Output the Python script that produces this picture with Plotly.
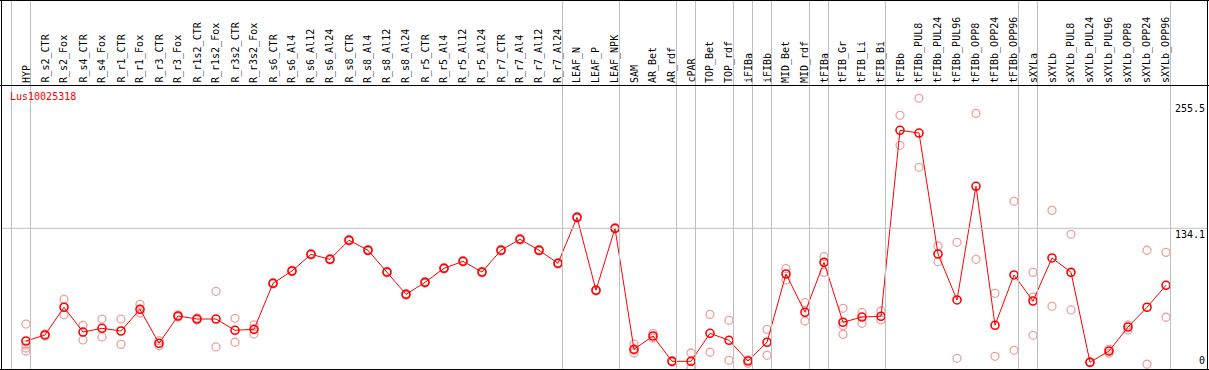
import plotly.graph_objects as go

W, H = 1209, 370

categories = ["HYP", "R_s2_CTR", "R_s2_Fox", "R_s4_CTR", "R_s4_Fox", "R_r1_CTR", "R_r1_Fox",
              "R_r3_CTR", "R_r3_Fox", "R_r1s2_CTR", "R_r1s2_Fox", "R_r3s2_CTR", "R_r3s2_Fox",
              "R_s6_CTR", "R_s6_Al4", "R_s6_Al12", "R_s6_Al24", "R_s8_CTR", "R_s8_Al4",
              "R_s8_Al12", "R_s8_Al24", "R_r5_CTR", "R_r5_Al4", "R_r5_Al12", "R_r5_Al24",
              "R_r7_CTR", "R_r7_Al4", "R_r7_Al12", "R_r7_Al24", "LEAF_N", "LEAF_P", "LEAF_NPK",
              "SAM", "AR_Bet", "AR_rdf", "cPAR", "TOP_Bet", "TOP_rdf", "iFIBa", "iFIBb",
              "MID_Bet", "MID_rdf", "tFIBa", "tFIB_Gr", "tFIB_Li", "tFIB_Bi", "tFIBb",
              "tFIBb_PUL8", "tFIBb_PUL24", "tFIBb_PUL96", "tFIBb_OPP8", "tFIBb_OPP24",
              "tFIBb_OPP96", "sXYLa", "sXYLb", "sXYLb_PUL8", "sXYLb_PUL24", "sXYLb_PUL96",
              "sXYLb_OPP8", "sXYLb_OPP24", "sXYLb_OPP96"]

mean_values = [25.9, 31.7, 58.3, 34.5, 38.1, 35.5, 56.3, 23.7, 49.9, 47.0, 47.0, 36.2, 37.1,
               81.3, 93.1, 109.1, 104.3, 122.6, 113.0, 92.1, 70.7, 82.2, 95.7, 102.4, 92.1,
               113.0, 123.5, 113.0, 100.5, 144.6, 74.6, 134.1,
               17.9, 30.7, 6.4, 6.4, 33.3, 26.6, 6.7, 24.7, 90.2, 53.5, 101.4, 43.9, 48.9, 49.6,
               228.1, 225.5, 109.4, 65.3, 174.4, 41.0, 89.3, 64.3, 105.6, 91.8, 5.5, 16.3,
               39.3, 58.3, 79.4]

rep_values = [
    [42.2, 22.1, 19.2, 16.3], [32.6, 30.7], [65.9, 51.2], [41.0, 26.9], [47.0, 29.8],
    [47.0, 22.7], [61.1, 52.8], [26.2, 21.4], [50.9, 48.9], [48.0, 46.1], [73.6, 20.2],
    [47.7, 24.7], [41.3, 32.6],
    [82.0, 80.6], [93.8, 92.4], [109.8, 108.4], [105.0, 103.6], [123.3, 121.9], [113.7, 112.3],
    [92.8, 91.4], [71.4, 70.0], [82.9, 81.5], [96.4, 95.0], [103.1, 101.7], [92.8, 91.4],
    [113.7, 112.3], [124.2, 122.8], [113.7, 112.3], [101.2, 99.8], [145.3, 143.9], [75.3, 73.9],
    [134.8, 133.4],
    [23.0, 17.3, 14.4], [33.3, 28.8], [7.0, 5.8], [14.4, 0.0], [51.5, 15.1], [45.8, 7.4],
    [7.7, 4.5], [37.1, 12.2], [95.3, 84.5], [62.7, 45.1], [106.8, 91.8], [57.3, 40.6, 32.3],
    [53.1, 42.9], [54.7, 46.1], [242.5, 213.7], [258.8, 192.6], [117.1, 102.0], [120.6, 9.3],
    [244.4, 104.3], [71.7, 11.2], [160.0, 17.0], [91.8, 68.1, 31.4], [151.3, 59.2],
    [128.3, 55.7], [6.0, 5.0], [18.2, 14.1], [41.3, 36.5], [113.0, 3.6], [111.0, 48.7],
]

gene_id = "Lus10025318"
axis_labels = ["255.5", "134.1", "0"]
axis_values = [255.5, 134.1, 0]
mean_line_value = 134.1

group_starts = ["HYP", "R_s2_CTR", "LEAF_N", "SAM", "cPAR", "TOP_Bet", "iFIBa", "iFIBb",
                "MID_Bet", "tFIBa", "tFIB_Gr", "tFIBb", "sXYLa", "sXYLb"]

# ---- pixel geometry ----
X0, DX = 26.0, 19.0          # pixel x of first category, spacing
Y0, KY = 368.0, 1.042        # pixel y of value 0, pixels per unit
xr = [-X0 / DX, (W - X0) / DX]
yr = [(Y0 - H) / KY, Y0 / KY]

def px(p):
    return p / W

def py(p):
    return 1 - p / H

rep_x, rep_y = [], []
for c, reps in zip(categories, rep_values):
    for v in reps:
        rep_x.append(c)
        rep_y.append(v)

fig = go.Figure()
fig.add_trace(go.Scatter(
    x=rep_x, y=rep_y, mode="markers",
    marker=dict(symbol="circle-open", size=8, color="#f0a0a0", line=dict(width=1.3)),
    hoverinfo="skip", showlegend=False))
fig.add_trace(go.Scatter(
    x=categories, y=mean_values, mode="lines+markers",
    line=dict(color="#ff0000", width=1),
    marker=dict(symbol="circle-open", size=8, color="#ff0000", line=dict(width=1.6)),
    showlegend=False))

shapes = []
gray = "#c0c0c0"
offset = 14.5 / DX
idx = {c: i for i, c in enumerate(categories)}
bounds = [idx[c] - offset for c in group_starts] + [len(categories) - offset]
for b in bounds:
    shapes.append(dict(type="line", xref="x", yref="paper", x0=b, x1=b, y0=py(369), y1=1,
                       line=dict(color=gray, width=1)))
# mean line
shapes.append(dict(type="line", xref="paper", yref="y", x0=px(1), x1=px(1207),
                   y0=mean_line_value, y1=mean_line_value, line=dict(color=gray, width=1)))
# black frame
blk = dict(color="#000000", width=1)
shapes += [
    dict(type="line", xref="paper", yref="paper", x0=0, x1=1, y0=py(0.5), y1=py(0.5), line=blk),
    dict(type="line", xref="paper", yref="paper", x0=0, x1=1, y0=py(85.5), y1=py(85.5), line=blk),
    dict(type="line", xref="paper", yref="paper", x0=0, x1=1, y0=py(369.5), y1=py(369.5), line=blk),
    dict(type="line", xref="paper", yref="paper", x0=px(1.5), x1=px(1.5), y0=0, y1=1, line=blk),
    dict(type="line", xref="paper", yref="paper", x0=px(1207.5), x1=px(1207.5), y0=0, y1=1, line=blk),
]

mono = "DejaVu Sans Mono"
ann = []
for c in categories:
    ann.append(dict(x=c, xref="x", y=py(84), yref="paper", text=c, textangle=-90,
                    showarrow=False, xanchor="center", yanchor="bottom", borderpad=0,
                    font=dict(family=mono, size=10, color="#000000")))
ann.append(dict(x=px(9), xref="paper", y=py(90), yref="paper", text=gene_id, showarrow=False,
                xanchor="left", yanchor="top", borderpad=0,
                font=dict(family=mono, size=10, color="#ff0000")))
for lab, v in zip(axis_labels, axis_values):
    if v == 0:
        ann.append(dict(x=px(1206), xref="paper", y=py(367), yref="paper", text=lab,
                        showarrow=False, xanchor="right", yanchor="bottom", borderpad=0,
                        font=dict(family=mono, size=10, color="#000000")))
    else:
        ann.append(dict(x=px(1206), xref="paper", y=v, yref="y", text=lab,
                        showarrow=False, xanchor="right", yanchor="top", borderpad=0,
                        font=dict(family=mono, size=10, color="#000000")))

fig.update_layout(
    width=W, height=H, margin=dict(l=0, r=0, t=0, b=0),
    paper_bgcolor="white", plot_bgcolor="white",
    xaxis=dict(type="category", categoryorder="array", categoryarray=categories,
               range=xr, showgrid=False, zeroline=False, showticklabels=False, ticks="",
               showline=False, fixedrange=True),
    yaxis=dict(range=yr, showgrid=False, zeroline=False, showticklabels=False, ticks="",
               showline=False, fixedrange=True),
    shapes=shapes, annotations=ann,
)
fig.write_html("out.html", config={"displayModeBar": False},
               post_script="document.body.style.margin='0';document.body.style.overflow='hidden';")
